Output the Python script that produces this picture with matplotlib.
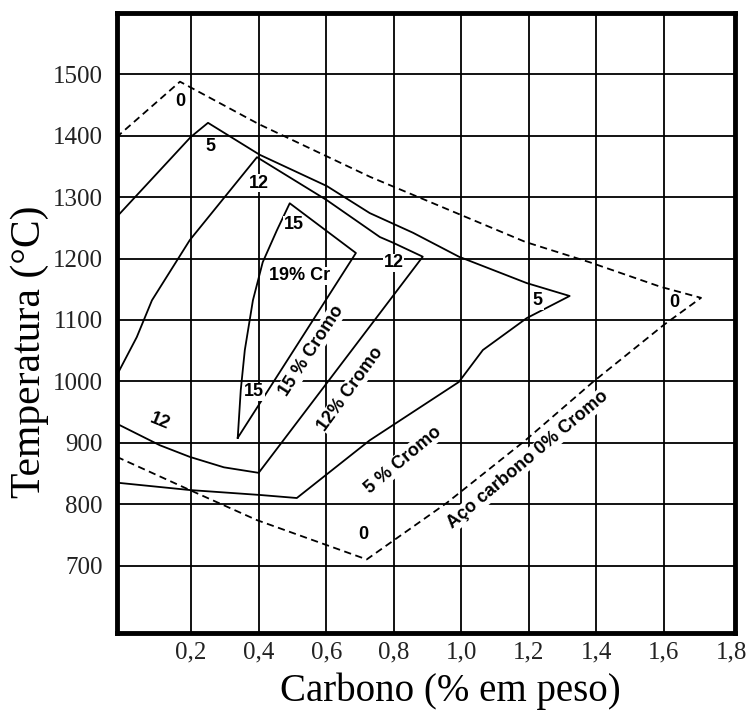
import matplotlib.pyplot as plt

# fronteiras das regioes (Carbono %, Temperatura C)
cr0_x = [-0.02, 0.196, 0.395, 0.593, 0.72, 0.957, 1.19, 1.39, 1.60, 1.71,
         1.59, 1.38, 1.19, 0.73, 0.40, 0.167, -0.02]
cr0_y = [877, 823, 774, 735, 710, 802, 904, 999, 1092, 1136,
         1154, 1194, 1227, 1333, 1419, 1488, 1398]

cr5_x = [-0.02, 0.196, 0.403, 0.513, 0.729, 0.993, 1.064, 1.194, 1.321,
         1.194, 0.993, 0.857, 0.729, 0.602, 0.403, 0.25, 0.199, -0.02]
cr5_y = [835, 823, 815, 810, 904, 999, 1051, 1103, 1139,
         1160, 1203, 1242, 1274, 1318, 1369, 1421, 1398, 1268]

cr12_x = [-0.02, 0.107, 0.196, 0.297, 0.40, 0.886, 0.797, 0.759, 0.602,
          0.395, 0.196, 0.084, 0.039, -0.02]
cr12_y = [931, 896, 877, 860, 851, 1203, 1226, 1235, 1295,
          1365, 1230, 1132, 1072, 1010]

cr15_x = [0.338, 0.688, 0.492, 0.454, 0.412, 0.383, 0.359, 0.347, 0.338]
cr15_y = [908, 1209, 1290, 1246, 1194, 1132, 1051, 986, 908]

x_ticks = [0.2, 0.4, 0.6, 0.8, 1.0, 1.2, 1.4, 1.6, 1.8]
x_ticklabels = ['0,2', '0,4', '0,6', '0,8', '1,0', '1,2', '1,4', '1,6', '1,8']
y_ticks = [700, 800, 900, 1000, 1100, 1200, 1300, 1400, 1500]

# rotulos: texto, x, y, rotacao
labels = [
    ('0', 0.167, 1455, 0), ('5', 0.258, 1382, 0), ('12', 0.40, 1323, 0),
    ('15', 0.504, 1255, 0), ('19% Cr', 0.522, 1172, 0), ('12', 0.80, 1193, 0),
    ('5', 1.227, 1132, 0), ('0', 1.632, 1128, 0), ('15', 0.386, 983, 0),
    ('12', 0.107, 934, -22), ('0', 0.711, 750, 0),
    ('15 % Cromo', 0.556, 1050, 57), ('12% Cromo', 0.672, 988, 54),
    ('5 % Cromo', 0.827, 872, 40), ('Aço carbono 0% Cromo', 1.197, 872, 40),
]

fig = plt.figure(figsize=(7.49, 7.17), dpi=100)
ax = fig.add_axes([0.156, 0.117, 0.825, 0.865])
ax.set_xlim(-0.02, 1.81)
ax.set_ylim(590, 1600)

for xv in x_ticks[:-1]:
    ax.axvline(xv, color='black', lw=1.3, zorder=1)
for yv in y_ticks:
    ax.axhline(yv, color='black', lw=1.3, zorder=1)

ax.plot(cr0_x, cr0_y, color='black', lw=1.3, linestyle=(0, (4, 2.5)), zorder=2)
for cx, cy in [(cr5_x, cr5_y), (cr12_x, cr12_y), (cr15_x, cr15_y)]:
    ax.plot(cx, cy, color='black', lw=1.3, zorder=2)

for txt, tx, ty, rot in labels:
    ax.text(tx, ty, txt, rotation=rot, ha='center', va='center', fontsize=13,
            fontweight='bold', family='Liberation Sans', zorder=3,
            bbox=dict(fc='white', ec='none', pad=0.5))

ax.set_xticks(x_ticks)
ax.set_xticklabels(x_ticklabels)
ax.set_yticks(y_ticks)
ax.tick_params(length=0, labelsize=18, colors='#222222')
ax.tick_params(axis='x', pad=6)
ax.tick_params(axis='y', pad=10)
for lab in ax.get_xticklabels() + ax.get_yticklabels():
    lab.set_family('Liberation Serif')

for s in ax.spines.values():
    s.set_linewidth(3.5)

ax.set_xlabel('Carbono (% em peso)', fontsize=28, family='Liberation Serif')
ax.set_ylabel('Temperatura (°C)', fontsize=30, family='Liberation Serif')
ax.xaxis.set_label_coords(0.539, -0.063)
ax.yaxis.set_label_coords(-0.110, 0.453)

plt.savefig('out.png', dpi=100)
